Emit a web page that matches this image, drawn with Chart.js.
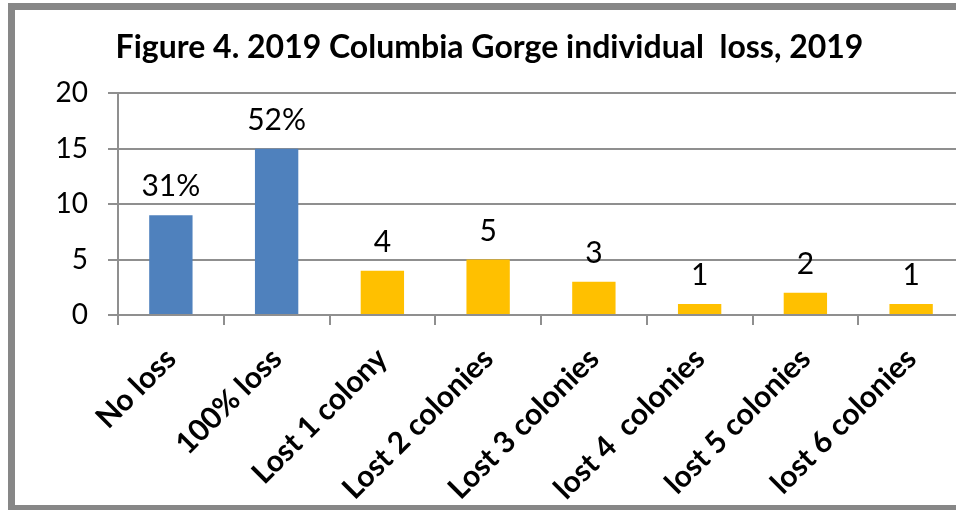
<!DOCTYPE html>
<html>
<head>
<meta charset="utf-8">
<script src="https://cdn.jsdelivr.net/npm/chart.js@4.4.1/dist/chart.umd.min.js"></script>
<style>
  html, body { margin: 0; padding: 0; background: #fff; overflow: hidden; width: 956px; height: 510px; }
  canvas { display: block; }
</style>
</head>
<body>
<canvas id="lossChart" width="985" height="510"></canvas>
<script>
// categories and values
const categories = ['No loss', '100% loss', 'Lost 1 colony', 'Lost 2 colonies', 'Lost 3 colonies', 'lost 4  colonies', 'lost 5 colonies', 'lost 6 colonies'];
const counts = [9, 15, 4, 5, 3, 1, 2, 1];
const barLabels = ['31%', '52%', '4', '5', '3', '1', '2', '1'];
const yTicks = [0, 5, 10, 15, 20];

const blue = '#4F81BD';
const yellow = '#FFC000';
const barColors = counts.map((v, i) => i < 2 ? blue : yellow);

const gridGrey = '#8f8f8f';
const frameGrey = '#878787';
const fontFamily = 'Lato, "Open Sans", sans-serif';

// grey frame round the chart (its right side lies outside the window)
const chartFrame = {
    id: 'chartFrame',
    beforeDraw(chart) {
        const c = chart.ctx;
        c.save();
        c.fillStyle = '#fff';
        c.fillRect(0, 0, chart.width, chart.height);
        c.restore();
    },
    afterDraw(chart) {
        const c = chart.ctx;
        c.save();
        c.fillStyle = frameGrey;
        c.fillRect(8, 3, chart.width - 8, 7);
        c.fillRect(8, 3, 7, chart.height - 3);
        c.fillRect(8, 505, chart.width - 8, 7);
        c.restore();
    }
};

// draws the text above each bar
const valueLabels = {
    id: 'valueLabels',
    afterDatasetsDraw(chart) {
        const c = chart.ctx;
        const meta = chart.getDatasetMeta(0);
        c.save();
        c.font = '30px ' + fontFamily;
        c.fillStyle = '#000';
        c.textAlign = 'center';
        c.textBaseline = 'alphabetic';
        meta.data.forEach((bar, i) => {
            c.fillText(barLabels[i], bar.x, bar.y - 19);
        });
        c.restore();
    }
};

const ctx = document.getElementById('lossChart').getContext('2d');
const lossChart = new Chart(ctx, {
    type: 'bar',
    data: {
        labels: categories,
        datasets: [{
            data: counts,
            backgroundColor: barColors,
            borderWidth: 0,
            barPercentage: 0.41,
            categoryPercentage: 1
        }]
    },
    options: {
        responsive: false,
        animation: false,
        layout: { padding: { left: 15, right: 21, top: 10, bottom: 5 } },
        plugins: {
            legend: { display: false },
            tooltip: { enabled: false },
            title: {
                display: true,
                text: 'Figure 4. 2019 Columbia Gorge individual  loss, 2019',
                color: '#000',
                font: { family: fontFamily, size: 32, weight: 'bold', lineHeight: 1.2 },
                padding: { top: 18, bottom: 27 }
            }
        },
        scales: {
            x: {
                grid: {
                    offset: true,
                    drawOnChartArea: false,
                    drawTicks: true,
                    tickLength: 10,
                    color: gridGrey,
                    lineWidth: 2
                },
                border: { color: gridGrey, width: 2 },
                ticks: {
                    color: '#000',
                    minRotation: 45,
                    maxRotation: 45,
                    autoSkip: false,
                    padding: 16,
                    font: { family: fontFamily, size: 30, weight: 'bold' }
                },
                afterFit(scale) { scale.height = 190; }
            },
            y: {
                min: 0,
                max: 20,
                afterBuildTicks(scale) { scale.ticks = yTicks.map(v => ({ value: v })); },
                grid: {
                    color: gridGrey,
                    lineWidth: 2,
                    tickLength: 10
                },
                border: { color: gridGrey, width: 2 },
                ticks: {
                    color: '#000',
                    padding: 20,
                    font: { family: fontFamily, size: 28 }
                },
                afterFit(scale) { scale.width = 103; }
            }
        }
    },
    plugins: [chartFrame, valueLabels]
});
</script>
</body>
</html>
